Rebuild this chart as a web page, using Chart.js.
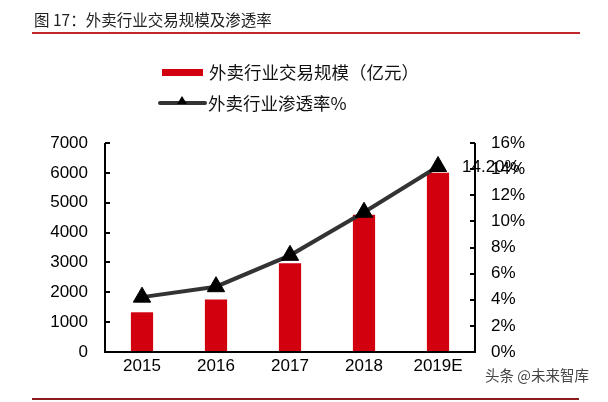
<!DOCTYPE html>
<html>
<head>
<meta charset="utf-8">
<script src="https://cdn.jsdelivr.net/npm/chart.js@4.4.1/dist/chart.umd.min.js"></script>
<style>
  html, body { margin: 0; padding: 0; background: #fff; }
  #wrap { position: relative; width: 608px; height: 402px; overflow: hidden; background: #fff; }
  #c { position: absolute; left: 0; top: 0; }
  .txt { position: absolute; white-space: nowrap; font-family: "Noto Sans CJK SC", "Liberation Sans", sans-serif; color: #111; }
  #title { left: 34px; top: 9px; font-size: 15.5px; line-height: 20px; color: #222; }
  #topline { position: absolute; left: 32px; top: 32px; width: 548px; height: 2px; background: #c0272d; }
  #botline { position: absolute; left: 32px; top: 398px; width: 547px; height: 2px; background: #8c1c1c; }
  #lg1box { position: absolute; left: 162px; top: 69px; width: 41px; height: 7px; background: #d2000f; }
  #lg1 { left: 209px; top: 61px; font-size: 17.5px; line-height: 22px; }
  #lg2line { position: absolute; left: 158px; top: 101px; width: 49px; height: 4px; background: #333; border-radius: 2px; }
  #lg2tri { position: absolute; left: 177px; top: 96px; width: 0; height: 0; border-left: 5px solid transparent; border-right: 5px solid transparent; border-bottom: 8px solid #000; }
  #lg2 { left: 208px; top: 92px; font-size: 17.5px; line-height: 22px; }
  #wm { left: 485px; top: 366px; font-size: 14.5px; line-height: 18px; color: #444; }
</style>
</head>
<body>
<div id="wrap">
  <canvas id="c" width="608" height="402"></canvas>
  <div id="title" class="txt">图 17：外卖行业交易规模及渗透率</div>
  <div id="topline"></div>
  <div id="lg1box"></div>
  <div id="lg1" class="txt">外卖行业交易规模（亿元）</div>
  <div id="lg2line"></div>
  <div id="lg2tri"></div>
  <div id="lg2" class="txt">外卖行业渗透率%</div>
  <div id="wm" class="txt">头条 @未来智库</div>
  <div id="botline"></div>
</div>
<script>
const categories = ['2015', '2016', '2017', '2018', '2019E'];
const tradeScale = [1330, 1760, 2970, 4600, 6000];      // 亿元
const penetration = [4.2, 5.0, 7.4, 10.7, 14.2];        // %
const leftTicks = [0, 1000, 2000, 3000, 4000, 5000, 6000, 7000];
const rightTicks = [0, 2, 4, 6, 8, 10, 12, 14, 16];
const lastLabel = '14.20%';

const FONT = '"Liberation Sans", Arial, sans-serif';

const axisPlugin = {
  id: 'axisPlugin',
  afterDatasetsDraw(chart) {
    const ctx = chart.ctx;
    const ca = chart.chartArea;
    const y = chart.scales.y, y1 = chart.scales.y1;
    ctx.save();
    ctx.strokeStyle = '#000';
    ctx.lineWidth = 2;
    ctx.beginPath();
    ctx.moveTo(ca.left, ca.top); ctx.lineTo(ca.left, ca.bottom);
    ctx.moveTo(ca.right, ca.top); ctx.lineTo(ca.right, ca.bottom);
    ctx.moveTo(ca.left - 1, ca.bottom); ctx.lineTo(ca.right + 1, ca.bottom);
    leftTicks.forEach(v => {
      const py = Math.round(y.getPixelForValue(v));
      ctx.moveTo(ca.left, py); ctx.lineTo(ca.left + 5, py);
    });
    rightTicks.forEach(v => {
      const py = Math.round(y1.getPixelForValue(v));
      ctx.moveTo(ca.right, py); ctx.lineTo(ca.right - 5, py);
    });
    ctx.stroke();
    ctx.restore();
  },
  afterDraw(chart) {
    const meta = chart.getDatasetMeta(1);
    const pt = meta.data[meta.data.length - 1];
    const ctx = chart.ctx;
    ctx.save();
    ctx.font = '17px ' + FONT;
    ctx.fillStyle = '#000';
    ctx.textAlign = 'left';
    ctx.textBaseline = 'middle';
    ctx.fillText(lastLabel, pt.x + 24, pt.y + 1);
    ctx.restore();
  }
};

new Chart(document.getElementById('c'), {
  type: 'bar',
  data: {
    labels: categories,
    datasets: [
      {
        type: 'bar',
        label: '外卖行业交易规模（亿元）',
        data: tradeScale,
        backgroundColor: '#d2000f',
        borderWidth: 0,
        yAxisID: 'y',
        categoryPercentage: 1.0,
        barPercentage: 0.3,
        order: 2
      },
      {
        type: 'line',
        label: '外卖行业渗透率%',
        data: penetration,
        borderColor: '#333333',
        borderWidth: 4,
        pointStyle: 'triangle',
        pointRadius: 10,
        pointBorderWidth: 1,
        pointBackgroundColor: '#000',
        pointBorderColor: '#000',
        tension: 0,
        yAxisID: 'y1',
        order: 1
      }
    ]
  },
  options: {
    responsive: false,
    animation: false,
    devicePixelRatio: 1,
    layout: { padding: { top: 143, left: 0, right: 0, bottom: 0 } },
    plugins: { legend: { display: false }, tooltip: { enabled: false } },
    scales: {
      x: {
        grid: { display: false, drawTicks: false },
        border: { display: false },
        ticks: { color: '#000', font: { family: FONT, size: 17 }, padding: 4, maxRotation: 0 },
        afterFit(s) { s.height = 50; }
      },
      y: {
        position: 'left',
        min: 0, max: 7000,
        afterBuildTicks(s) { s.ticks = leftTicks.map(v => ({ value: v })); },
        grid: { display: false, drawTicks: false },
        border: { display: false },
        ticks: { color: '#000', font: { family: FONT, size: 17 }, padding: 17, callback: v => String(v) },
        afterFit(s) { s.width = 105; }
      },
      y1: {
        position: 'right',
        min: 0, max: 16,
        afterBuildTicks(s) { s.ticks = rightTicks.map(v => ({ value: v })); },
        grid: { display: false, drawTicks: false },
        border: { display: false },
        ticks: { color: '#000', font: { family: FONT, size: 17 }, padding: 16, callback: v => v + '%' },
        afterFit(s) { s.width = 133; }
      }
    }
  },
  plugins: [axisPlugin]
});
</script>
</body>
</html>
